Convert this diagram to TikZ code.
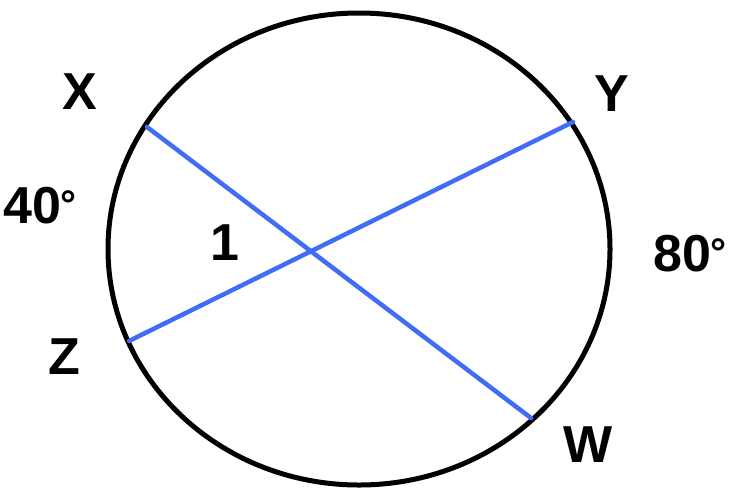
\documentclass[tikz,border=0pt]{standalone}
\usepackage{fontspec}
\setmainfont{Liberation Sans}
\definecolor{chordblue}{RGB}{64,108,246}
\newcommand{\dg}{\kern-1pt\raisebox{5pt}{\fontsize{40}{40}\selectfont °}}
\begin{document}
\begin{tikzpicture}[x=1pt,y=-1pt,
  rim/.style={line width=5pt,black},
  chord/.style={line width=4.5pt,chordblue,line cap=round},
  lab/.style={font=\fontsize{52}{52}\selectfont\bfseries,inner sep=0pt,anchor=center}]
\useasboundingbox (0,0) rectangle (730,488);
\coordinate (c) at (359,249);
\draw[rim] (c) ellipse [x radius=251pt, y radius=236pt];
\coordinate (x) at (147,127);
\coordinate (w) at (531,418);
\coordinate (y) at (573,122);
\coordinate (z) at (129,341);
\draw[chord] (x) -- (w);
\draw[chord] (y) -- (z);
\node[lab] (lx) at (80,92) {X};
\node[lab] (ly) at (612,94) {Y};
\node[lab] (lz) at (64,357) {Z};
\node[lab] (lw) at (588,445) {W};
\node[lab] (l40) at (40,206) {40\dg};
\node[lab] (l80) at (690,254) {80\dg};
\node[lab] (l1) at (225,243) {1};
\end{tikzpicture}
\end{document}
